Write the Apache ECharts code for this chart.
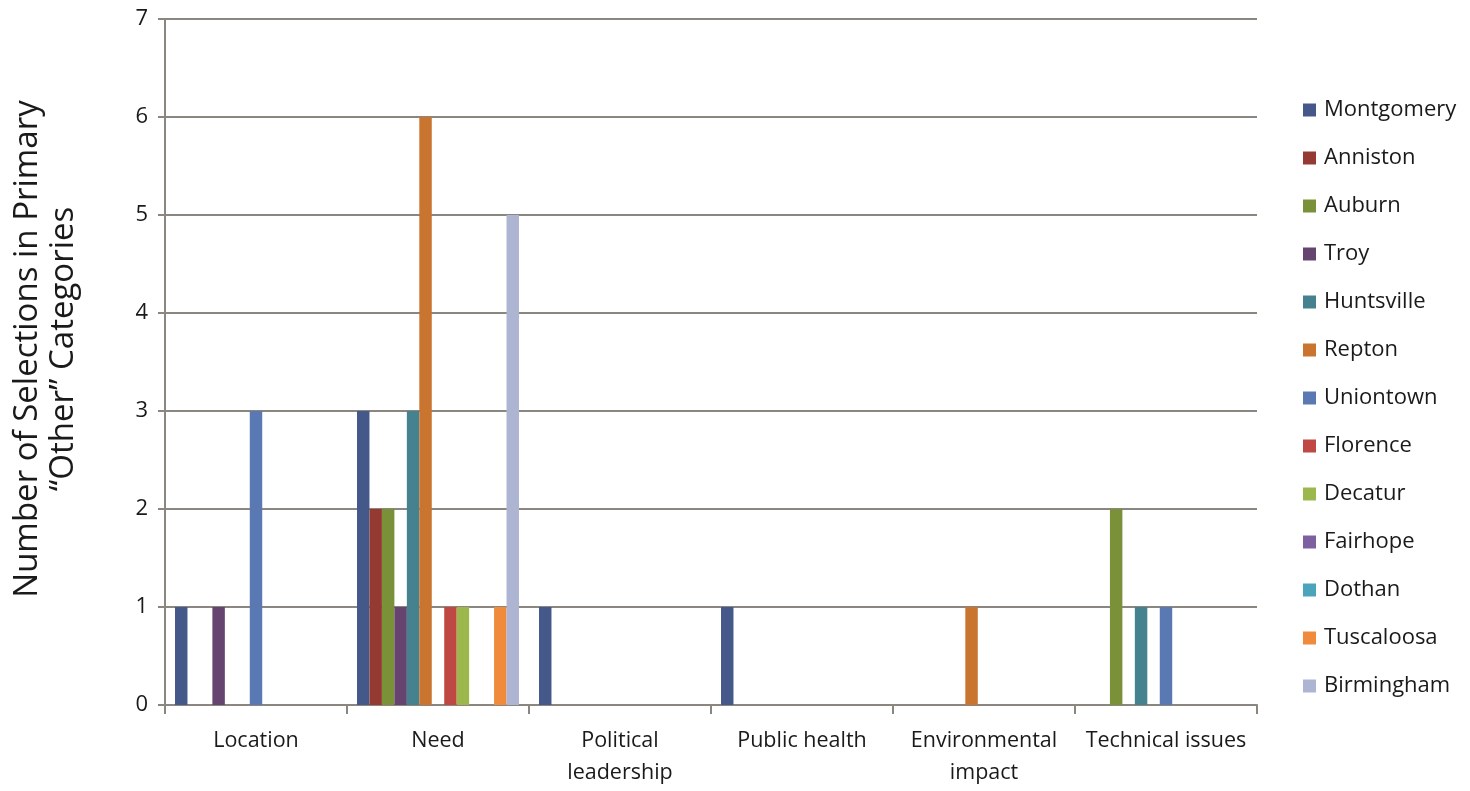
<!DOCTYPE html>
<html>
<head>
<meta charset="utf-8">
<script src="https://cdn.jsdelivr.net/npm/echarts@6/dist/echarts.min.js"></script>
<style>
  html, body { margin: 0; padding: 0; background: #ffffff; }
  #chart { width: 1470px; height: 791px; }
</style>
</head>
<body>
<div id="chart"></div>
<script>
// Reasons given, by city, for the primary "Other" categories
const categories = ["Location", "Need", "Political\nleadership", "Public health", "Environmental\nimpact", "Technical issues"];
const yTicks = [0, 1, 2, 3, 4, 5, 6, 7];

const cities = ["Montgomery", "Anniston", "Auburn", "Troy", "Huntsville", "Repton", "Uniontown",
                "Florence", "Decatur", "Fairhope", "Dothan", "Tuscaloosa", "Birmingham"];

const montgomery = [1, 3, 1, 1, 0, 0];
const anniston   = [0, 2, 0, 0, 0, 0];
const auburn     = [0, 2, 0, 0, 0, 2];
const troy       = [1, 1, 0, 0, 0, 0];
const huntsville = [0, 3, 0, 0, 0, 1];
const repton     = [0, 6, 0, 0, 1, 0];
const uniontown  = [3, 0, 0, 0, 0, 1];
const florence   = [0, 1, 0, 0, 0, 0];
const decatur    = [0, 1, 0, 0, 0, 0];
const fairhope   = [0, 0, 0, 0, 0, 0];
const dothan     = [0, 0, 0, 0, 0, 0];
const tuscaloosa = [0, 1, 0, 0, 0, 0];
const birmingham = [0, 5, 0, 0, 0, 0];

const values = [montgomery, anniston, auburn, troy, huntsville, repton, uniontown,
                florence, decatur, fairhope, dothan, tuscaloosa, birmingham];

const colors = ["#44598a", "#953a33", "#7a9139", "#65446f", "#46818f", "#c9742f", "#5a78b2",
                "#bf4845", "#9cb84c", "#7e5fa0", "#4ba4bb", "#f08b3b", "#aeb5d3"];

const FONT = "Open Sans";
const axisGray = "#8c8681";
const textColor = "#1a1a1a";

const chart = echarts.init(document.getElementById("chart"), null, { renderer: "canvas" });

chart.setOption({
  backgroundColor: "#ffffff",
  animation: false,
  color: colors,
  textStyle: { fontFamily: FONT, color: textColor },
  grid: { left: 165, right: 213, top: 19, bottom: 86, outerBoundsMode: "none", containLabel: false },
  legend: {
    orient: "vertical",
    left: 1298,
    top: 93,
    itemWidth: 13,
    itemHeight: 13,
    itemGap: 24,
    icon: "rect",
    textStyle: { fontFamily: FONT, fontSize: 22, color: textColor, lineHeight: 24, padding: [0, 0, 0, 3] },
    data: cities
  },
  xAxis: {
    type: "category",
    data: categories,
    axisLine: { lineStyle: { color: axisGray, width: 2 } },
    axisTick: { show: true, alignWithLabel: false, length: 9, lineStyle: { color: axisGray, width: 2 } },
    axisLabel: { interval: 0, margin: 20, fontFamily: FONT, fontSize: 21.5, color: textColor, lineHeight: 32 }
  },
  yAxis: {
    type: "value",
    min: 0,
    max: yTicks[yTicks.length - 1],
    interval: 1,
    name: "Number of Selections in Primary\n\u201cOther\u201d Categories",
    nameLocation: "middle",
    nameRotate: 90,
    nameGap: 83,
    nameTextStyle: { fontFamily: FONT, fontSize: 33, color: textColor, lineHeight: 36, padding: [0, 0, 0, 26] },
    axisLine: { show: true, lineStyle: { color: axisGray, width: 2 } },
    axisTick: { show: true, length: 7, lineStyle: { color: axisGray, width: 2 } },
    axisLabel: { margin: 17, fontFamily: FONT, fontSize: 22, color: textColor },
    splitLine: { show: true, lineStyle: { color: axisGray, width: 2 } }
  },
  series: cities.map((name, i) => ({
    name: name,
    type: "bar",
    data: values[i],
    barGap: "0%",
    barCategoryGap: "11%",
    itemStyle: { color: colors[i] }
  }))
});
</script>
</body>
</html>
